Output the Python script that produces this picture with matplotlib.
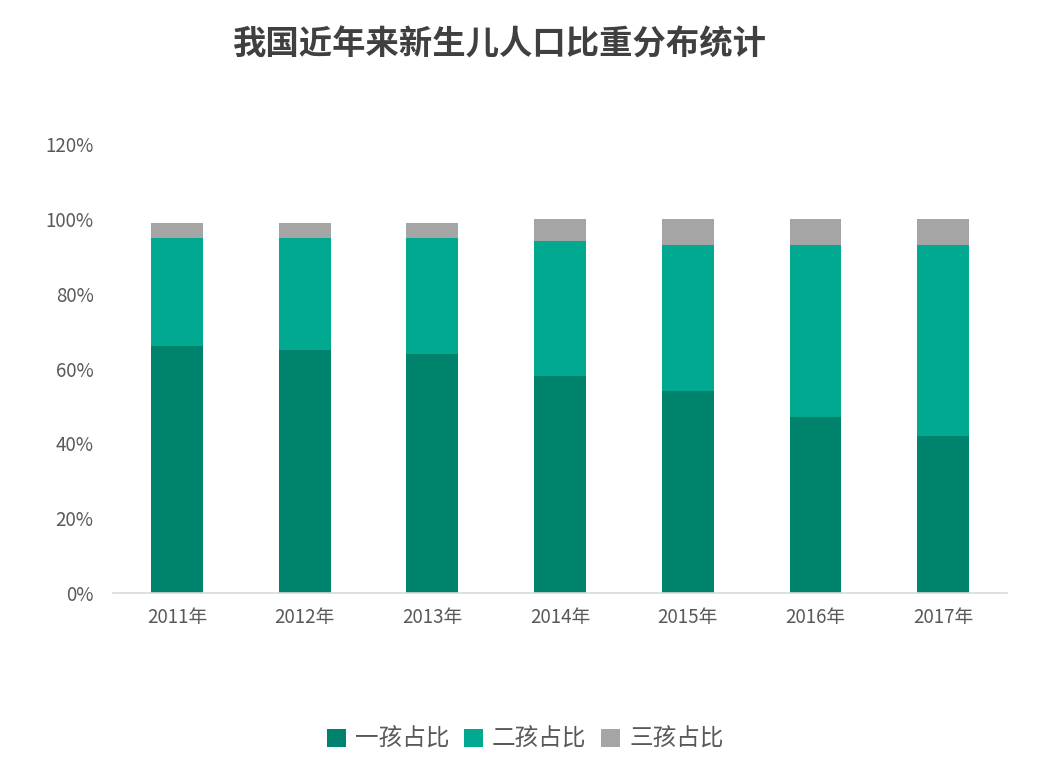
import matplotlib.pyplot as plt
import numpy as np

plt.rcParams['font.family'] = ['Noto Sans CJK SC', 'DejaVu Sans']

years = ['2011年', '2012年', '2013年', '2014年', '2015年', '2016年', '2017年']
first_child = [66, 65, 64, 58, 54, 47, 42]
second_child = [29, 30, 31, 36, 39, 46, 51]
third_child = [4, 4, 4, 6, 7, 7, 7]
labels = ['一孩占比', '二孩占比', '三孩占比']
colors = ['#00836C', '#00A98F', '#A5A5A5']

fig = plt.figure(figsize=(10.4, 7.76), dpi=100)
ax = fig.add_axes([0.1087, 0.2358, 0.8596, 0.5786])

x = np.arange(len(years))
w = 0.406
f = np.array(first_child) / 100
s = np.array(second_child) / 100
t = np.array(third_child) / 100
ax.bar(x, f, w, color=colors[0], label=labels[0])
ax.bar(x, s, w, bottom=f, color=colors[1], label=labels[1])
ax.bar(x, t, w, bottom=f + s, color=colors[2], label=labels[2])

ax.set_xlim(-0.5, len(years) - 0.5)
ax.set_ylim(0, 1.2)
ax.set_yticks(np.arange(0, 1.21, 0.2))
ax.set_yticklabels([f'{int(round(v * 100))}%' for v in np.arange(0, 1.21, 0.2)])
ax.set_xticks(x)
ax.set_xticklabels(years)
ax.tick_params(axis='both', length=0, labelsize=13.5, colors='#595959', pad=10)
ax.tick_params(axis='y', pad=14)
for sp in ['top', 'right', 'left']:
    ax.spines[sp].set_visible(False)
ax.spines['bottom'].set_color('#D9D9D9')
ax.spines['bottom'].set_linewidth(1.2)

fig.text(0.481, 0.942, '我国近年来新生儿人口比重分布统计', ha='center', va='center',
         fontsize=24, fontweight='bold', color='#404040')

fig.legend(loc='center', bbox_to_anchor=(0.505, 0.047), ncol=3, frameon=False,
           fontsize=17, handlelength=0.8, handleheight=0.8, handletextpad=0.4,
           columnspacing=0.6, labelcolor='#595959')

fig.savefig('out.png', dpi=100)
